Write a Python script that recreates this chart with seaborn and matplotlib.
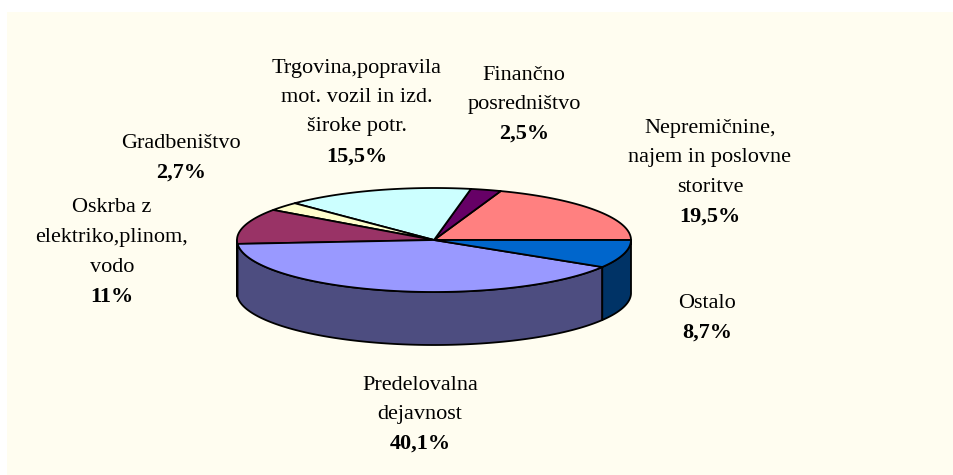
import numpy as np
import matplotlib.pyplot as plt
import seaborn as sns
from matplotlib.patches import Polygon, Rectangle

sns.set_theme(style="white")
plt.rcParams["font.family"] = ["Liberation Serif", "DejaVu Serif"]

# data, counter-clockwise from 3 o'clock
sektorji = ["Nepremičnine,\nnajem in poslovne\nstoritve", "Finančno\nposredništvo",
            "Trgovina,popravila\nmot. vozil in izd.\nširoke potr.", "Gradbeništvo",
            "Oskrba z\nelektriko,plinom,\nvodo", "Predelovalna\ndejavnost", "Ostalo"]
delezi = [19.5, 2.5, 15.5, 2.7, 11.0, 40.1, 8.7]
oznake = ["19,5%", "2,5%", "15,5%", "2,7%", "11%", "40,1%", "8,7%"]
barve = ["#FF8080", "#660066", "#CCFFFF", "#FFFFCC", "#993366", "#9999FF", "#0066CC"]

# label anchor (center x, first line y) in pixels
lab_pos = [(710, 128), (524, 75), (357, 68), (181, 143), (112, 208), (420, 385), (707, 303)]

# pie geometry in pixels
cx, cy, ra, rb, depth = 434, 240, 197, 52, 53

fig = plt.figure(figsize=(9.54, 4.75), dpi=100)
ax = fig.add_axes([0, 0, 1, 1])
ax.set_xlim(0, 954)
ax.set_ylim(475, 0)
ax.axis("off")
ax.add_patch(Rectangle((7, 12), 960, 470, facecolor="#FFFDF0", edgecolor="none", zorder=0))


def arc(t1, t2, dy=0.0):
    t = np.radians(np.linspace(t1, t2, 120))
    return np.column_stack([cx + ra * np.cos(t), cy - rb * np.sin(t) + dy])


def darker(c):
    r, g, b = [int(c[i:i + 2], 16) / 2 for i in (1, 3, 5)]
    return (r / 255, g / 255, b / 255)


kum = np.concatenate([[0], np.cumsum(delezi)]) / sum(delezi) * 360

# side walls (front half only)
for i, col in enumerate(barve):
    t1, t2 = max(kum[i], 180), min(kum[i + 1], 360)
    if t2 <= t1:
        continue
    pts = np.vstack([arc(t1, t2), arc(t2, t1, depth)])
    ax.add_patch(Polygon(pts, closed=True, facecolor=darker(col), edgecolor="black",
                         linewidth=1.3, joinstyle="round", zorder=1))

# top faces
for i, col in enumerate(barve):
    pts = np.vstack([[cx, cy], arc(kum[i], kum[i + 1])])
    ax.add_patch(Polygon(pts, closed=True, facecolor=col, edgecolor="black",
                         linewidth=1.3, joinstyle="round", zorder=2))

# labels
for ime, pct, (lx, ly) in zip(sektorji, oznake, lab_pos):
    vrstice = ime.split("\n")
    for k, v in enumerate(vrstice):
        ax.text(lx, ly + 29.5 * k, v, ha="center", va="center", fontsize=16, color="black")
    ax.text(lx, ly + 29.5 * len(vrstice), pct, ha="center", va="center", fontsize=16,
            fontweight="bold", color="black")

fig.savefig("out.png", dpi=100)
